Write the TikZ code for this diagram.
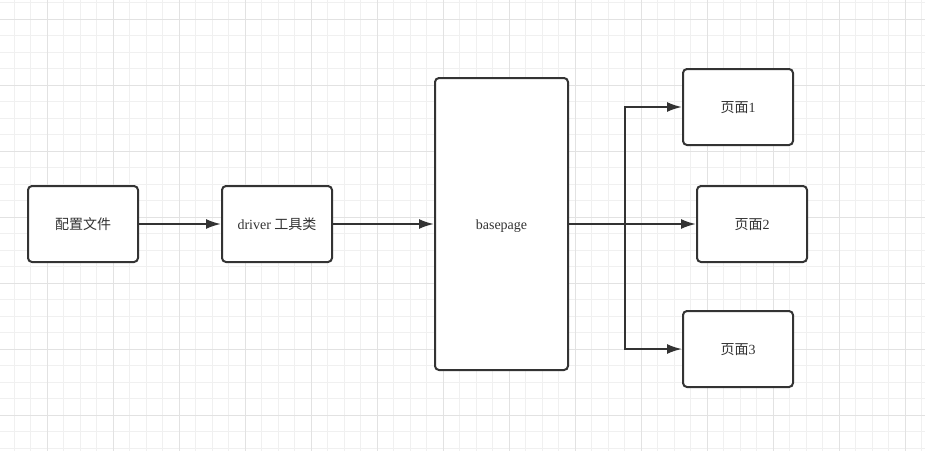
\documentclass[tikz,border=0pt]{standalone}
\usepackage{fontspec}
\setmainfont{Liberation Serif}
\newfontfamily\cjk{Noto Sans CJK SC}
\usetikzlibrary{arrows.meta}
\definecolor{ink}{HTML}{333333}
\definecolor{gridminor}{HTML}{F0F0F0}
\definecolor{gridmajor}{HTML}{E2E2E2}
\tikzset{
  box/.style={draw=ink, line width=2pt, rounded corners=4pt, fill=white,
    text=ink, font=\fontsize{14}{16}\selectfont, inner sep=0pt,
    text height=12pt, text depth=1.5pt},
  smallbox/.style={box, minimum width=110pt, minimum height=76pt},
  arr/.style={draw=ink, line width=2pt, -{Latex[length=15pt,width=10pt]}},
  minorline/.style={gridminor, line width=1pt},
  majorline/.style={gridmajor, line width=1pt},
}
\begin{document}
\begin{tikzpicture}[x=1pt,y=-1pt]
  % canvas
  \fill[white] (0,0) rectangle (925,451);
  \useasboundingbox (0,0) rectangle (925,451);
  % background grid
  \foreach \i in {0,...,55} {
    \pgfmathsetmacro\gx{14+16.5*\i}
    \draw[minorline] (\gx,0) -- (\gx,451);
  }
  \foreach \i in {0,...,27} {
    \pgfmathsetmacro\gy{2.8+16.5*\i}
    \draw[minorline] (0,\gy) -- (925,\gy);
  }
  \foreach \i in {0,...,13} {
    \pgfmathsetmacro\gx{47+66*\i}
    \draw[majorline] (\gx,0) -- (\gx,451);
  }
  \foreach \i in {0,...,6} {
    \pgfmathsetmacro\gy{19.3+66*\i}
    \draw[majorline] (0,\gy) -- (925,\gy);
  }
  % boxes
  \node[smallbox] (cfg) at (83,224) {\cjk 配置文件};
  \node[smallbox] (drv) at (277,224) {driver {\cjk 工具类}};
  \node[box, minimum width=133pt, minimum height=292pt] (base) at (501.5,224) {basepage};
  \node[smallbox] (p1) at (738,107) {{\cjk 页面}1};
  \node[smallbox] (p2) at (752,224) {{\cjk 页面}2};
  \node[smallbox] (p3) at (738,349) {{\cjk 页面}3};
  % connectors
  \coordinate (split) at (625,224);
  \draw[arr] (cfg) -- (drv);
  \draw[arr] (drv) -- (base);
  \draw[arr] (base.east) -- (p2.west);
  \draw[arr] (base.east) -- (split) |- (p1.west);
  \draw[arr] (split) |- (p3.west);
\end{tikzpicture}
\end{document}
